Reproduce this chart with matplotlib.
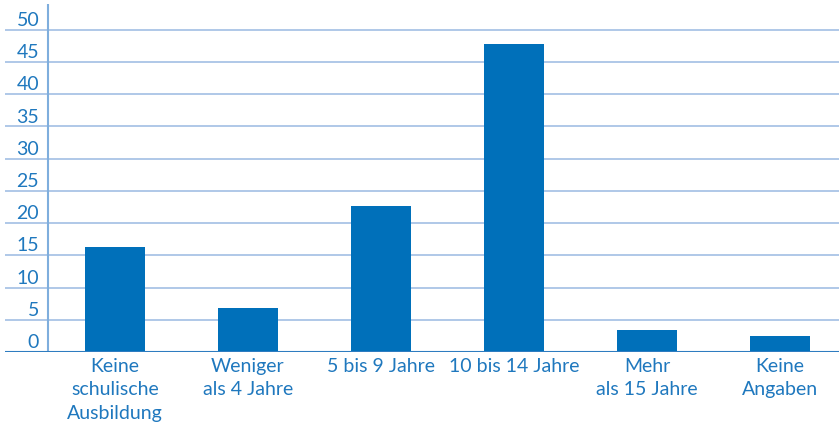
import matplotlib
matplotlib.use("Agg")
import matplotlib.pyplot as plt

categories = ["Keine\nschulische\nAusbildung", "Weniger\nals 4 Jahre", "5 bis 9 Jahre",
              "10 bis 14 Jahre", "Mehr\nals 15 Jahre", "Keine\nAngaben"]
values = [16.3, 6.8, 22.7, 47.8, 3.4, 2.5]
yticks = [0, 5, 10, 15, 20, 25, 30, 35, 40, 45, 50]

bar_color = "#0070BA"
text_color = "#1F78BE"
grid_color = "#A9C4E6"
axis_color = "#2E7CC0"

plt.rcParams['font.family'] = ['Lato', 'DejaVu Sans']

fig = plt.figure(figsize=(8.39, 4.27), dpi=100)
ax = fig.add_axes([5/839, 74/427, 834/839, 348/427])
x = list(range(len(categories)))
ax.set_xlim(-0.827, 5.444)
ax.set_ylim(0, 54)

for v in yticks[1:]:
    ax.axhline(v, color=grid_color, lw=1.3, zorder=1)
ax.axhline(0, color=axis_color, lw=1.5, zorder=3)
ax.axvline(-0.5, color="#7FAEDD", lw=1.5, zorder=1)

ax.bar(x, values, width=0.45, color=bar_color, zorder=2)

for v in yticks:
    ax.text(-0.57, v + 0.3, str(v), ha='right', va='bottom', color=text_color, fontsize=14)

for xi, lab in zip(x, categories):
    ax.text(xi, -0.8, lab, ha='center', va='top', color=text_color, fontsize=14, linespacing=1.45)

ax.axis('off')
fig.savefig("out.png", dpi=100)
